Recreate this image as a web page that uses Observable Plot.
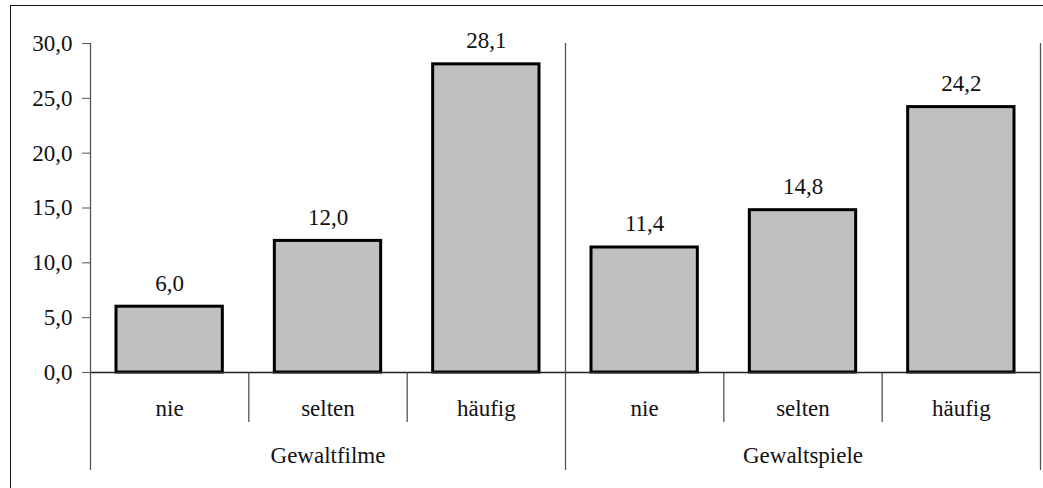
<!DOCTYPE html>
<html>
<head>
<meta charset="utf-8">
<script src="https://cdn.jsdelivr.net/npm/d3@7"></script>
<script src="https://cdn.jsdelivr.net/npm/@observablehq/plot@0.6"></script>
<style>
  html, body { margin: 0; padding: 0; background: #fff; font-family: 'Liberation Serif'; }
  #wrap { position: relative; width: 1043px; height: 488px; overflow: hidden; }
  #border { position: absolute; left: 10px; top: 5px; right: -5px; bottom: -5px;
            border-top: 1.5px solid #111; border-left: 1.5px solid #111; pointer-events: none; }
</style>
</head>
<body>
<div id="wrap"><div id="border"></div></div>
<script>
const groups = ["Gewaltfilme", "Gewaltfilme", "Gewaltfilme", "Gewaltspiele", "Gewaltspiele", "Gewaltspiele"];
const categories = ["nie", "selten", "häufig", "nie", "selten", "häufig"];
const values = [6.0, 12.0, 28.1, 11.4, 14.8, 24.2];
const yTicks = [0, 5, 10, 15, 20, 25, 30];

const fmt = d => d.toFixed(1).replace(".", ",");
const FS = 23;

const data = values.map((v, i) => ({ i, group: groups[i], cat: categories[i], value: v }));

// boundaries between categories inside a group, and group boundaries
const catBounds = [];
const groupBounds = [0];
for (let i = 1; i < groups.length; i++) {
  if (groups[i] === groups[i - 1]) catBounds.push(i); else groupBounds.push(i);
}
groupBounds.push(groups.length);

const groupNames = [...new Set(groups)];
const groupLabels = groupNames.map(g => {
  const idx = data.filter(d => d.group === g).map(d => d.i + 0.5);
  return { group: g, x: d3.mean(idx) };
});

const plot = Plot.plot({
  width: 1043,
  height: 488,
  marginLeft: 90,
  marginRight: 3,
  marginTop: 43,
  marginBottom: 116,
  style: `font-size: ${FS}px; color: #111; background: transparent;`,
  x: { domain: [0, groups.length], axis: null },
  y: { domain: [0, 30], axis: null },
  marks: [
    Plot.axisY(yTicks, { label: null, tickSize: 8, tickPadding: 10, tickFormat: fmt, stroke: "#555", fill: "#111", fontSize: FS }),
    Plot.rectY(data, { x1: d => d.i, x2: d => d.i + 1, y: "value", insetLeft: 26, insetRight: 26, fill: "#c0c0c0", stroke: "#000", strokeWidth: 3 }),
    Plot.ruleY([0], { stroke: "#222", strokeWidth: 1.3 }),
    Plot.ruleX(groupBounds, { x: d => d, stroke: "#555", strokeWidth: 1.3, insetBottom: -98 }),
    Plot.ruleX(catBounds, { x: d => d, stroke: "#444", strokeWidth: 1.2, insetTop: 329, insetBottom: -50 }),
    Plot.text(data, { x: d => d.i + 0.5, y: "value", text: d => fmt(d.value), lineAnchor: "bottom", dy: -16, fill: "#111", fontSize: FS }),
    Plot.text(data, { x: d => d.i + 0.5, text: "cat", frameAnchor: "bottom", lineAnchor: "bottom", dy: 43, fill: "#111", fontSize: FS }),
    Plot.text(groupLabels, { x: "x", text: "group", frameAnchor: "bottom", lineAnchor: "bottom", dy: 90, fill: "#111", fontSize: FS })
  ]
});
plot.setAttribute("font-family", "Liberation Serif");
plot.style.setProperty("font-family", "'Liberation Serif'", "important");
plot.querySelectorAll("g, text").forEach(el => {
  if (el.hasAttribute("font-family")) el.setAttribute("font-family", "Liberation Serif");
  if (el.tagName.toLowerCase() === "text") el.style.setProperty("font-family", "'Liberation Serif'", "important");
});
document.getElementById("wrap").appendChild(plot);
</script>
</body>
</html>
